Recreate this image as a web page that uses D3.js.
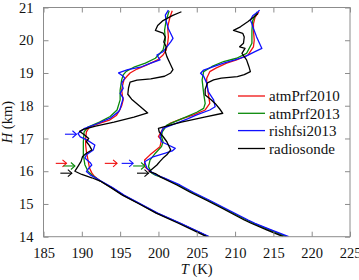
<!DOCTYPE html>
<html><head><meta charset="utf-8">
<script src="https://cdn.jsdelivr.net/npm/d3@7"></script>
<style>
html,body{margin:0;padding:0;background:#fff;}
svg{display:block;}
</style></head>
<body>
<svg id="chart" width="359" height="280"></svg>
<script>
// ---- data: [T (K), H (km)] ----
const xTicks = [185,190,195,200,205,210,215,220,225];
const yTicks = [14,15,16,17,18,19,20,21];
const seriesNames = ["atmPrf2010","atmPrf2013","rishfsi2013","radiosonde"];
const seriesColors = ["#f01010","#0a8a0a","#1010ff","#000000"];

// left profile group
const leftAtmPrf2010 = [[201.8,20.9],[201.5,20.7],[201.2,20.4],[201.3,20.1],[201.2,19.9],[201.0,19.7],[200.6,19.55],[199.9,19.4],[198.5,19.25],[197.2,19.12],[196.3,19.0],[195.9,18.9],[195.5,18.79],[195.3,18.6],[195.2,18.48],[195.3,18.3],[195.4,18.18],[195.2,18.0],[194.9,17.85],[194.5,17.7],[193.6,17.56],[192.2,17.45],[191.0,17.35],[190.6,17.2],[190.5,17.0],[190.5,16.8],[190.6,16.6],[190.8,16.35],[191.0,16.1],[191.3,15.95],[191.6,15.85],[192.4,15.7],[193.9,15.5],[195.4,15.27],[197.6,15.0],[199.8,14.72],[202.8,14.41],[206.5,14.0]];
const leftAtmPrf2013 = [[201.4,20.9],[201.0,20.6],[200.8,20.3],[200.9,20.0],[200.6,19.7],[199.6,19.45],[198.3,19.3],[196.9,19.19],[195.8,19.05],[195.4,18.94],[195.2,18.79],[195.0,18.48],[195.0,18.18],[194.6,17.87],[193.7,17.67],[192.3,17.5],[190.8,17.35],[190.3,17.2],[190.2,16.9],[190.2,16.5],[190.4,16.2],[190.8,16.0],[191.5,15.85],[192.4,15.7],[193.9,15.5],[195.4,15.27],[197.6,15.0],[199.8,14.72],[202.8,14.41],[206.5,14.0]];
const leftRishfsi2013 = [[201.3,20.92],[200.9,20.77],[201.0,20.6],[201.3,20.35],[201.9,20.06],[201.6,19.95],[201.1,19.8],[200.6,19.65],[199.8,19.55],[200.2,19.4],[199.0,19.3],[197.8,19.19],[196.0,19.1],[194.8,19.0],[195.4,18.9],[195.6,18.84],[195.2,18.69],[195.4,18.53],[195.0,18.38],[195.4,18.23],[195.2,18.07],[195.0,17.9],[194.8,17.82],[193.7,17.62],[192.0,17.45],[190.3,17.3],[189.5,17.15],[189.8,17.05],[190.7,16.95],[191.7,16.8],[191.5,16.65],[190.6,16.5],[190.4,16.4],[191.1,16.26],[191.3,16.19],[190.8,16.06],[190.6,15.99],[191.1,15.89],[192.5,15.7],[194.0,15.5],[195.5,15.27],[197.7,15.0],[199.9,14.72],[202.9,14.41],[206.6,14.0]];
const leftRadiosonde = [[203.0,20.87],[201.8,20.75],[200.6,20.6],[199.9,20.45],[199.6,20.3],[200.6,20.22],[200.9,20.1],[200.7,19.95],[201.0,19.8],[200.9,19.65],[201.1,19.5],[201.5,19.3],[201.9,19.1],[201.6,19.0],[200.8,18.9],[199.0,18.82],[197.2,18.78],[196.3,18.72],[196.1,18.55],[196.0,18.35],[196.5,18.2],[197.5,18.0],[198.6,17.78],[196.8,17.65],[194.2,17.5],[191.8,17.38],[190.2,17.28],[189.7,17.22],[190.4,17.1],[190.9,17.0],[190.6,16.9],[191.0,16.78],[191.3,16.65],[190.6,16.55],[190.1,16.45],[189.9,16.3],[189.5,16.15],[189.1,16.0],[190.0,15.9],[191.3,15.8],[192.4,15.7],[193.8,15.5],[195.3,15.27],[197.5,15.0],[199.7,14.72],[202.6,14.41],[206.3,14.0]];

// right profile group
const rightAtmPrf2010 = [[213.1,20.87],[212.6,20.7],[212.4,20.5],[212.4,20.31],[212.5,20.0],[212.4,19.8],[211.7,19.55],[210.2,19.4],[208.9,19.3],[207.5,19.15],[206.7,19.04],[206.3,18.84],[206.3,18.69],[206.5,18.38],[206.7,18.07],[206.1,17.87],[204.6,17.72],[203.0,17.6],[201.5,17.46],[200.6,17.3],[200.0,17.06],[200.4,16.95],[200.2,16.75],[198.9,16.5],[198.2,16.34],[198.2,16.14],[198.9,15.99],[199.8,15.88],[200.6,15.8],[202.6,15.58],[204.4,15.35],[206.4,15.12],[208.5,14.87],[211.5,14.51],[212.4,14.41],[214.6,14.2],[216.7,14.0]];
const rightAtmPrf2013 = [[212.9,20.87],[212.3,20.6],[212.2,20.3],[212.2,19.91],[211.5,19.6],[210.2,19.45],[208.5,19.35],[207.0,19.2],[205.9,19.04],[205.7,18.79],[205.9,18.38],[206.1,18.07],[205.9,17.92],[205.0,17.8],[203.7,17.67],[202.0,17.5],[201.1,17.41],[200.5,17.2],[200.4,17.06],[200.6,16.9],[200.4,16.75],[199.6,16.55],[198.9,16.34],[198.7,16.14],[199.1,15.95],[199.6,15.88],[200.6,15.8],[202.6,15.58],[204.4,15.35],[206.4,15.12],[208.5,14.87],[211.5,14.51],[212.4,14.41],[214.6,14.2],[216.7,14.0]];
const rightRishfsi2013 = [[213.2,20.92],[213.0,20.87],[212.3,20.75],[212.0,20.62],[212.2,20.5],[212.4,20.36],[212.8,20.11],[213.2,19.9],[213.5,19.75],[212.6,19.65],[211.3,19.5],[210.0,19.4],[208.5,19.3],[207.0,19.18],[205.9,19.09],[205.5,18.99],[205.9,18.9],[206.3,18.69],[206.5,18.43],[207.2,18.18],[207.4,17.97],[206.7,17.87],[205.0,17.72],[203.8,17.6],[202.8,17.51],[200.6,17.31],[200.2,17.06],[200.4,16.9],[201.3,16.8],[202.2,16.7],[201.8,16.62],[200.9,16.55],[199.3,16.44],[198.2,16.29],[198.5,16.09],[199.3,15.94],[199.8,15.88],[200.7,15.8],[202.8,15.58],[204.6,15.35],[206.6,15.12],[208.7,14.87],[211.7,14.51],[212.6,14.41],[214.8,14.2],[217.0,14.0]];
const rightRadiosonde = [[213.0,20.82],[212.4,20.7],[211.7,20.57],[210.7,20.41],[209.8,20.3],[211.0,20.21],[211.2,20.1],[211.1,19.91],[210.6,19.8],[211.3,19.75],[210.9,19.6],[211.5,19.4],[211.8,19.2],[212.0,19.04],[211.2,18.95],[210.3,18.89],[208.2,18.84],[207.2,18.79],[206.4,18.7],[206.1,18.5],[206.1,18.33],[206.8,18.2],[207.4,18.07],[208.0,17.9],[208.4,17.77],[206.0,17.65],[203.0,17.5],[201.5,17.41],[200.0,17.31],[200.1,17.2],[200.6,17.06],[201.1,16.9],[201.3,16.8],[201.6,16.65],[201.1,16.5],[200.6,16.4],[200.2,16.3],[199.8,16.19],[199.3,16.09],[198.8,15.99],[199.6,15.93],[200.3,15.82],[202.4,15.58],[204.2,15.35],[206.2,15.12],[208.3,14.87],[211.2,14.51],[212.1,14.41],[214.2,14.2],[216.3,14.0]];

// tropopause arrows: [tail T, tip T, H, series index]
const arrows = [
  [186.6,188.0,16.24,0],[187.6,189.1,16.16,1],[187.8,189.3,17.13,2],[187.2,188.7,15.94,3],
  [193.0,194.6,16.24,0],[195.2,196.7,16.24,2],[196.7,198.25,16.16,1],[197.2,198.7,15.94,3]
];

// ---- chart ----
const FONT = "\"Liberation Serif\", \"Times New Roman\", serif";
const FS = 14.5;
const svg = d3.select("#chart");
const x = d3.scaleLinear().domain([185,225]).range([43.5,350]);
const y = d3.scaleLinear().domain([14,21]).range([236.7,7.5]);
const axisColor = "#8c8c8c";

const groups = [
  [leftAtmPrf2010,leftAtmPrf2013,leftRishfsi2013,leftRadiosonde],
  [rightAtmPrf2010,rightAtmPrf2013,rightRishfsi2013,rightRadiosonde]
];

const line = d3.line().x(d=>x(d[0])).y(d=>y(d[1]));
svg.append("clipPath").attr("id","clip").append("rect")
  .attr("x",x(185)).attr("y",y(21)).attr("width",x(225)-x(185)).attr("height",y(14)-y(21));
const plot = svg.append("g").attr("clip-path","url(#clip)");
groups.forEach(g=>{
  [0,1,2,3].forEach(i=>{
    plot.append("path").datum(g[i]).attr("d",line)
      .attr("fill","none").attr("stroke",seriesColors[i]).attr("stroke-width",1.3)
      .attr("stroke-linejoin","round");
  });
});

// arrows
arrows.forEach(a=>{
  const x0=x(a[0]), x1=x(a[1]), yy=y(a[2]), c=seriesColors[a[3]];
  const g = svg.append("g").attr("stroke",c).attr("stroke-width",1.1).attr("fill","none");
  g.append("line").attr("x1",x0).attr("x2",x1).attr("y1",yy).attr("y2",yy);
  g.append("path").attr("d",`M${x1-4},${yy-3.5}L${x1},${yy}L${x1-4},${yy+3.5}`);
});

// axes
const fmt = d3.format("d");
const xAxB = d3.axisBottom(x).tickValues(xTicks).tickFormat(fmt).tickSizeInner(-5).tickSizeOuter(0).tickPadding(11.5);
const xAxT = d3.axisTop(x).tickValues(xTicks).tickSizeInner(-5).tickSizeOuter(0).tickFormat("");
const yAxL = d3.axisLeft(y).tickValues(yTicks).tickFormat(fmt).tickSizeInner(-5).tickSizeOuter(0).tickPadding(10);
const yAxR = d3.axisRight(y).tickValues(yTicks).tickSizeInner(-5).tickSizeOuter(0).tickFormat("");
function style(g){
  g.attr("font-family",null).attr("font-size",null);
  g.select(".domain").remove();
  g.selectAll(".tick line").attr("stroke",axisColor);
  g.selectAll("text").style("font-size",FS+"px").style("font-family",FONT).attr("fill","#111");
}
svg.append("g").attr("transform",`translate(0,${y(14)})`).call(xAxB).call(style);
svg.append("g").attr("transform",`translate(0,${y(21)})`).call(xAxT).call(style);
svg.append("g").attr("transform",`translate(${x(185)},0)`).call(yAxL).call(style);
svg.append("g").attr("transform",`translate(${x(225)},0)`).call(yAxR).call(style);
svg.append("rect").attr("x",x(185)).attr("y",y(21)).attr("width",x(225)-x(185)).attr("height",y(14)-y(21))
  .attr("fill","none").attr("stroke",axisColor).attr("stroke-width",1);

// axis titles
const xt = svg.append("text").attr("x",(x(185)+x(225))/2).attr("y",274).attr("text-anchor","middle")
  .style("font-size",FS+"px").style("font-family",FONT).attr("fill","#111");
xt.append("tspan").attr("font-style","italic").text("T");
xt.append("tspan").text(" (K)");
const yt = svg.append("text").attr("transform",`translate(12,${(y(14)+y(21))/2}) rotate(-90)`).attr("text-anchor","middle")
  .style("font-size",FS+"px").style("font-family",FONT).attr("fill","#111");
yt.append("tspan").attr("font-style","italic").text("H");
yt.append("tspan").text(" (km)");

// legend
const legY = [96,113.3,130.6,148.5];
seriesNames.forEach((n,i)=>{
  svg.append("line").attr("x1",238).attr("x2",265).attr("y1",legY[i]).attr("y2",legY[i])
    .attr("stroke",seriesColors[i]).attr("stroke-width",1.3);
  svg.append("text").attr("x",269).attr("y",legY[i]).attr("dy","0.35em")
    .style("font-size","15px").style("font-family",FONT).attr("fill","#111").text(n);
});
</script>
</body></html>
